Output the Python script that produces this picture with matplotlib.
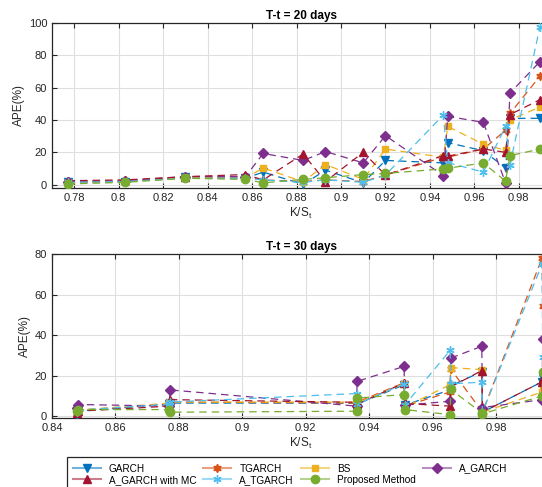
import matplotlib
matplotlib.use("Agg")
import matplotlib.pyplot as plt
from matplotlib.colors import to_rgba
from matplotlib.lines import Line2D
from matplotlib.patches import Rectangle

plt.rcParams['font.family'] = ['Liberation Sans', 'DejaVu Sans']
plt.rcParams['mathtext.default'] = 'regular'

# ---- data: T-t = 20 days ----
x20 = [0.777, 0.803, 0.830, 0.857, 0.865, 0.883, 0.893, 0.910, 0.920, 0.946, 0.948, 0.964, 0.974, 0.976, 0.9895]
garch20 = [1.5, 2.0, 4.5, 4.0, 7.8, 0.2, 9.0, 1.2, 15.0, 13.5, 26.0, 21.0, 10.4, 41.0, 41.0]
tgarch20 = [1.5, 2.0, 4.5, 5.0, 3.0, 2.0, 3.0, 2.0, 6.0, 17.0, 17.0, 22.0, 33.6, 44.0, 67.0]
bs20 = [1.5, 2.0, 4.5, 4.0, 10.4, 1.8, 12.5, 3.3, 22.0, 17.0, 36.0, 25.0, 21.3, 40.0, 48.0]
agarch20 = [2.0, 2.5, 5.0, 5.0, 19.3, 15.0, 20.5, 13.5, 30.3, 5.7, 42.2, 38.5, 1.2, 56.6, 76.0]
agarch_mc20 = [2.5, 3.0, 5.0, 6.3, 3.0, 19.0, 2.0, 20.0, 6.0, 18.0, 17.6, 22.1, 20.0, 43.3, 52.5]
atgarch20 = [1.5, 2.0, 4.0, 4.0, 3.0, 1.5, 3.0, 1.5, 6.0, 43.0, 13.7, 7.8, 36.0, 12.5, 97.6]
proposed20 = [0.5, 1.5, 4.0, 3.3, 1.2, 3.3, 4.3, 6.3, 7.0, 9.8, 10.2, 13.5, 2.2, 18.0, 22.0]

# ---- data: T-t = 30 days ----
x30 = [0.848, 0.8482, 0.877, 0.8772, 0.936, 0.9362, 0.951, 0.9512, 0.9655, 0.9657, 0.9755, 0.9757, 0.9945, 0.9947]
garch30 = [0.8, 2.5, 6.0, 6.5, 6.5, 6.0, 15.5, 5.5, 13.0, 15.0, 22.0, 2.0, 17.0, 19.0]
tgarch30 = [1.5, 3.0, 6.0, 7.0, 6.5, 7.0, 16.5, 5.0, 12.0, 23.3, 2.5, 2.0, 78.0, 54.5]
bs30 = [1.5, 3.0, 6.5, 7.0, 7.0, 6.5, 16.0, 4.5, 15.6, 24.0, 23.0, 2.0, 12.0, 14.0]
agarch30 = [4.0, 5.8, 5.0, 13.0, 5.0, 17.2, 24.6, 5.5, 7.4, 28.7, 34.5, 4.3, 8.2, 38.0]
agarch_mc30 = [1.5, 2.5, 5.0, 8.2, 6.9, 6.0, 16.4, 6.3, 5.0, 14.5, 22.5, 2.0, 17.0, 19.0]
atgarch30 = [2.0, 3.0, 6.0, 7.0, 11.2, 6.0, 16.0, 5.5, 32.5, 16.0, 16.8, 2.0, 75.0, 29.0]
proposed30 = [2.5, 3.3, 3.3, 2.0, 2.5, 9.0, 10.7, 3.3, 0.8, 13.2, 1.7, 1.2, 10.0, 22.0]

names = ['GARCH', 'A_GARCH with MC', 'TGARCH', 'A_TGARCH', 'BS', 'Proposed Method', 'A_GARCH']
colors = {'GARCH': '#0072BD', 'TGARCH': '#D95319', 'BS': '#EDB120', 'A_GARCH': '#7E2F8E',
          'A_GARCH with MC': '#A2142F', 'A_TGARCH': '#4DBEEE', 'Proposed Method': '#77AC30'}
markers = {'GARCH': 'v', 'TGARCH': (6, 1, 0), 'BS': 's', 'A_GARCH': 'D',
           'A_GARCH with MC': '^', 'A_TGARCH': (6, 2, 0), 'Proposed Method': 'o'}
msizes = {'GARCH': 6, 'TGARCH': 6, 'BS': 5, 'A_GARCH': 5, 'A_GARCH with MC': 6,
          'A_TGARCH': 6, 'Proposed Method': 6}

series20 = {'GARCH': garch20, 'TGARCH': tgarch20, 'BS': bs20, 'A_GARCH': agarch20,
            'A_GARCH with MC': agarch_mc20, 'A_TGARCH': atgarch20, 'Proposed Method': proposed20}
series30 = {'GARCH': garch30, 'TGARCH': tgarch30, 'BS': bs30, 'A_GARCH': agarch30,
            'A_GARCH with MC': agarch_mc30, 'A_TGARCH': atgarch30, 'Proposed Method': proposed30}
order = ['GARCH', 'TGARCH', 'BS', 'A_GARCH', 'A_GARCH with MC', 'A_TGARCH', 'Proposed Method']

fig = plt.figure(figsize=(5.42, 4.87), dpi=100)
W, H = 542, 487
ax1 = fig.add_axes([52 / W, 1 - 188 / H, 498 / W, (188 - 22.7) / H])
ax2 = fig.add_axes([52 / W, 1 - 418.3 / H, 498 / W, (418.3 - 254) / H])


def draw(ax, x, series, title, xlim, ylim, yticks, xticks):
    for n in order:
        ax.plot(x, series[n], color=colors[n], lw=0.9, dashes=(6, 4),
                marker=markers[n], ms=msizes[n], mfc=colors[n], mec=colors[n], mew=1.0, zorder=3)
    ax.set_xlim(*xlim)
    ax.set_ylim(*ylim)
    ax.set_xticks(xticks)
    ax.set_xticklabels([('%.2f' % t).rstrip('0').rstrip('.') for t in xticks])
    ax.set_yticks(yticks)
    ax.grid(True, color='#dedede', lw=0.8)
    ax.set_axisbelow(True)
    ax.tick_params(direction='in', length=3.5, width=0.8, colors='#262626', labelsize=8,
                   top=True, right=True)
    for s in ax.spines.values():
        s.set_color('#262626')
        s.set_linewidth(0.9)
    ax.set_title(title, fontsize=8.5, fontweight='bold', pad=3)
    ax.set_xlabel(r'K/S$_t$', fontsize=8.5, color='#262626', labelpad=2)
    ax.set_ylabel('APE(%)', fontsize=8.5, color='#262626', labelpad=3)


draw(ax1, x20, series20, 'T-t = 20 days', (0.77, 0.994), (-2, 100),
     [0, 20, 40, 60, 80, 100], [0.78, 0.80, 0.82, 0.84, 0.86, 0.88, 0.90, 0.92, 0.94, 0.96, 0.98])
draw(ax2, x30, series30, 'T-t = 30 days', (0.84, 0.997), (-1, 80),
     [0, 20, 40, 60, 80], [0.84, 0.86, 0.88, 0.90, 0.92, 0.94, 0.96, 0.98])

# legend: pale line, full-colour marker
handles = []
for n in names:
    handles.append(Line2D([], [], color=to_rgba(colors[n], 0.55), lw=1.5, marker=markers[n],
                          ms=msizes[n], mfc=colors[n], mec=colors[n]))
leg = fig.legend(handles, names, ncol=4, loc='upper left', bbox_to_anchor=(67.3 / W, 1 - 458 / H),
                 frameon=False, fontsize=7.2, handlelength=2.8, handletextpad=0.8,
                 columnspacing=0.7, labelspacing=0.12, borderpad=0.55, borderaxespad=0)
fig.patches.append(Rectangle((67.3 / W, -0.05), 1.0, (1 - 457.3 / H) + 0.05,
                             transform=fig.transFigure, fill=False, ec='#262626', lw=0.9))

fig.savefig('out.png', dpi=100)
